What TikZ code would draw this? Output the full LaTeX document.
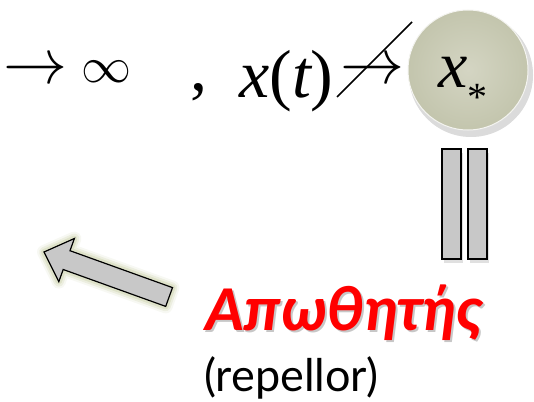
\documentclass[tikz,border=0pt]{standalone}
\usepackage{fontspec}
\setmainfont{Liberation Serif}
\newfontfamily\grk{Carlito}
\newfontfamily\lat{Lato}
\definecolor{ballc}{HTML}{D4D5C3}
\definecolor{ballo}{HTML}{C3C5AD}
\definecolor{barc}{HTML}{C8C8C8}
\definecolor{redt}{HTML}{FF0000}
\definecolor{glowc}{HTML}{9EA860}
\begin{document}
\begin{tikzpicture}[x=1pt,y=-1pt,
  mt/.style={inner sep=0pt, font=\fontsize{68}{68}\selectfont},
  barbox/.style={draw=black, line width=2pt, fill=barc},
  blockarrow/.style={draw=black, line width=1.2pt, fill=barc, line join=miter},
  grkfont/.style={font=\grk\bfseries\itshape\fontsize{64}{64}\selectfont}]
\useasboundingbox (0,0) rectangle (534,401);
% top formula
\node[inner sep=0pt] (a1) at (36,72) {\scalebox{6.4}{$\rightarrow$}};
\node[inner sep=0pt] (inf) at (106,72) {\scalebox{5}{$\infty$}};
\node[mt, anchor=base] (comma) at (199,91) {,};
\node[mt, anchor=base west] (xt) at (239,97) {\itshape x\upshape(\itshape t\upshape)};
\node[inner sep=0pt] (a2) at (372,72) {\scalebox{6.4}{$\rightarrow$}};
\coordinate (s1) at (337,97);
\coordinate (s2) at (412,22);
\draw[line width=1.6pt] (s1) -- (s2);
% ball
\foreach \o in {0.06,0.05,0.04} {\fill[black, opacity=\o] (471,75) circle[radius=62pt];}
\node[circle, minimum size=120pt, inner sep=0pt, inner color=ballc, outer color=ballo, draw=white!75!ballc, line width=1pt] (ball) at (468,70) {};
\node[font=\fontsize{66}{66}\selectfont, inner sep=0pt] (xs) at (453,72) {\itshape x};
\node[inner sep=0pt, font=\fontsize{40}{40}\selectfont] (star) at (477,97) {*};
% bars
\fill[black, opacity=0.12] (444,153) rectangle (463,263);
\fill[black, opacity=0.12] (470,153) rectangle (489,263);
\node[barbox, minimum width=19pt, minimum height=110pt, inner sep=0pt] (b1) at (451.5,204) {};
\node[barbox, minimum width=19pt, minimum height=110pt, inner sep=0pt] (b2) at (477.5,204) {};
% block arrow
\foreach \w/\o in {14/0.08,10/0.12,6/0.18} {
\draw[glowc, opacity=\o, line width=\w pt, line join=round] (44,252) -- (74.4,238.5) -- (70.0,250.7) -- (172.5,287.6) -- (165.7,306.4) -- (63.2,269.5) -- (58.8,281.7) -- cycle;}
\draw[blockarrow] (44,252) -- (74.4,238.5) -- (70.0,250.7) -- (172.5,287.6) -- (165.7,306.4) -- (63.2,269.5) -- (58.8,281.7) -- cycle;
% labels
\node[inner sep=0pt, anchor=base west, text=black, opacity=0.22, grkfont] (gsh) at (207,332) {Απωθητής};
\node[inner sep=0pt, anchor=base west, text=redt, grkfont] (greek) at (205,330) {Απωθητής};
\node[inner sep=0pt, anchor=base west, font=\lat\fontsize{45}{45}\selectfont] (rep) at (204,391) {(repellor)};
\end{tikzpicture}
\end{document}
